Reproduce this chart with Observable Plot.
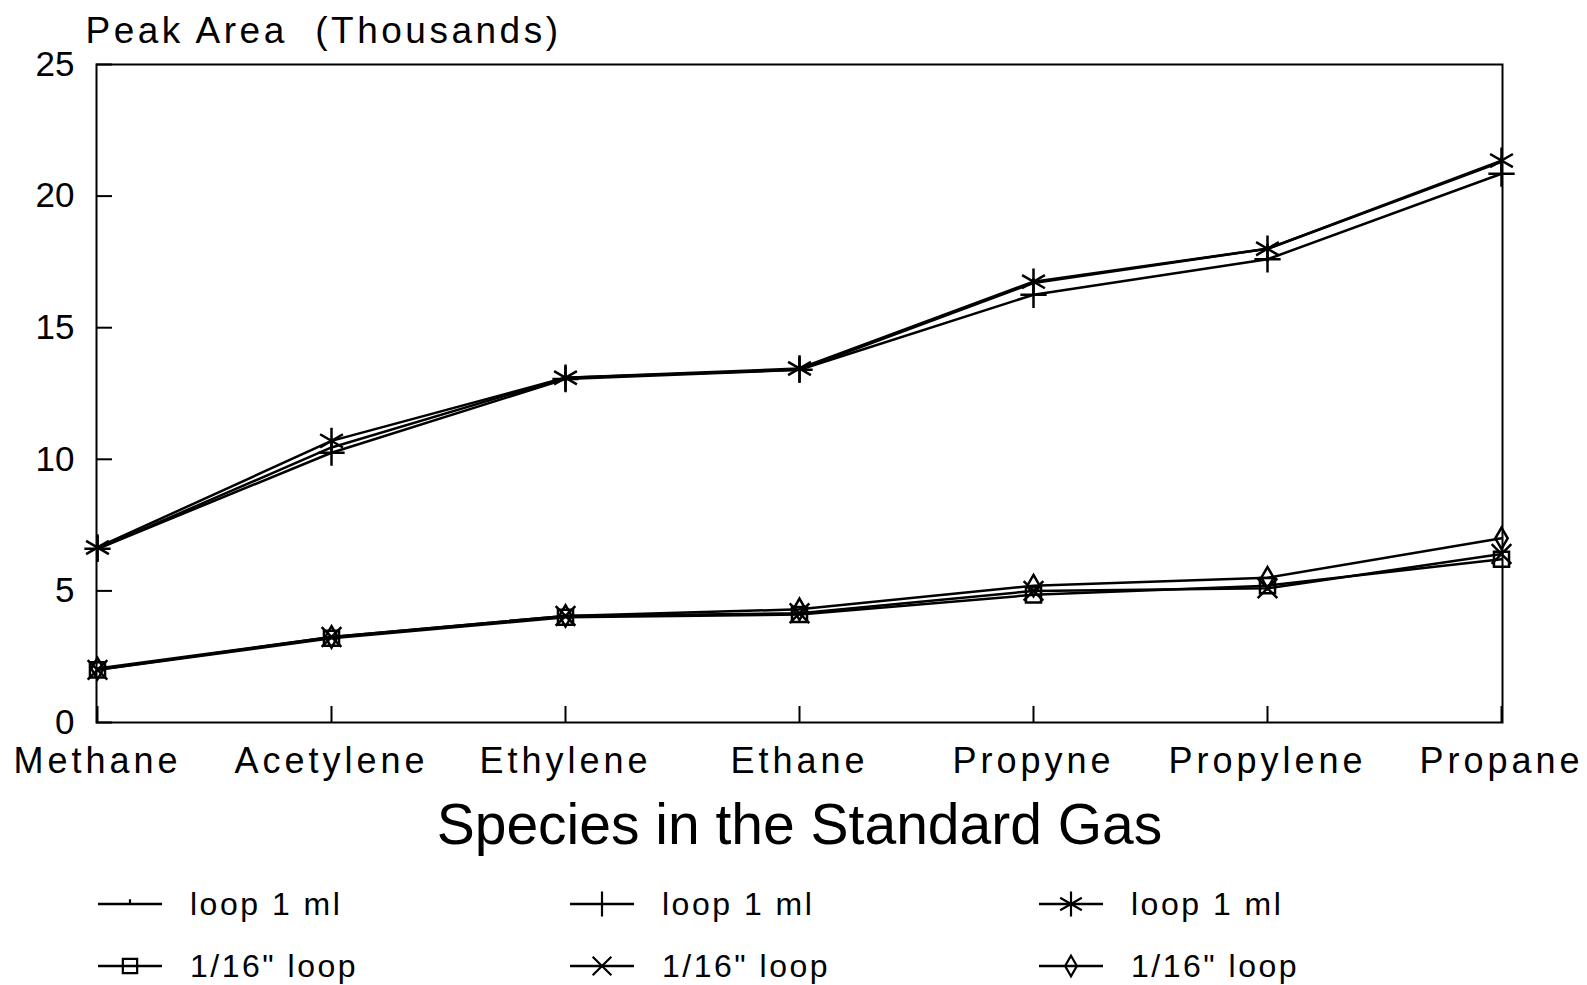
<!DOCTYPE html>
<html><head><meta charset="utf-8">
<script src="https://cdn.jsdelivr.net/npm/d3@7"></script>
<script src="https://cdn.jsdelivr.net/npm/@observablehq/plot@0.6"></script>
<style>
body{margin:0;background:#fff;font-family:"Liberation Sans",Arial,sans-serif;color:#000;}
#chart svg{display:block}
g[aria-label="x-axis tick label"]{font-size:36px;letter-spacing:4px}
g[aria-label="y-axis tick label"]{font-size:35px}
#legend{position:relative;height:135px;width:1587px}
.item{position:absolute;display:flex;align-items:center;height:40px;font-size:32px;letter-spacing:2.5px;white-space:pre}
.item svg{display:block}
</style></head><body><div id="chart"></div><div id="legend"></div>
<script>
const species = ["Methane","Acetylene","Ethylene","Ethane","Propyne","Propylene","Propane"];
const yTicks = [0,5,10,15,20,25];
const seriesNames = ["loop 1 ml","1/16\" loop","loop 1 ml","1/16\" loop","loop 1 ml","1/16\" loop"];
const loop1mlTick     = [6.6, 10.45, 13.1, 13.4, 16.7, 18.0, 21.3];
const loop116Square   = [2.0, 3.2, 4.0, 4.1, 4.85, 5.2, 6.2];
const loop1mlPlus     = [6.6, 10.25, 13.05, 13.4, 16.25, 17.6, 20.85];
const loop116Times    = [2.0, 3.25, 4.05, 4.15, 5.0, 5.1, 6.4];
const loop1mlAsterisk = [6.65, 10.7, 13.1, 13.45, 16.75, 18.0, 21.35];
const loop116Diamond  = [2.05, 3.25, 4.05, 4.3, 5.2, 5.5, 7.0];

const tickSymbol = {draw(ctx, size){ const r = Math.sqrt(size/Math.PI); ctx.moveTo(0,0); ctx.lineTo(0,-r); }};
const seriesValues = [loop1mlTick, loop116Square, loop1mlPlus, loop116Times, loop1mlAsterisk, loop116Diamond];
const symbols = [tickSymbol, "square", "plus", "times", "asterisk", "diamond"];
const d3symbols = [tickSymbol, d3.symbolSquare, d3.symbolPlus, d3.symbolTimes, d3.symbolAsterisk, d3.symbolDiamond];
const radii = [5, 8.5, 8.5, 9, 12.5, 6.5];

const rows = [];
seriesValues.forEach((vals, i) => vals.forEach((v, j) => rows.push({series: i, species: species[j], value: v})));

const yTitle = "Peak Area  (Thousands)";
const xTitle = "Species in the Standard Gas";

const marks = [
  Plot.frame({stroke: "black", strokeWidth: 2}),
  Plot.axisY({ticks: yTicks, tickSize: -16, tickPadding: 38, strokeWidth: 2, label: null}),
  Plot.axisX({tickSize: -16, tickPadding: 41, strokeWidth: 2, label: null}),
  Plot.line(rows, {x: "species", y: "value", z: "series", stroke: "black", strokeWidth: 2.5}),
  ...seriesValues.map((vals, i) => Plot.dot(rows.filter(d => d.series === i), {
    x: "species", y: "value", symbol: symbols[i], r: radii[i], stroke: "black", fill: "none", strokeWidth: 2.5
  })),
  Plot.text([yTitle], {text: d => d, frameAnchor: "top-left", dx: -11, dy: -22, textAnchor: "start", lineAnchor: "bottom", fontSize: 37, fill: "black"}),
  Plot.text([xTitle], {text: d => d, frameAnchor: "bottom", dy: 121, lineAnchor: "bottom", fontSize: 57, fill: "black"})
];

const plot = Plot.plot({
  width: 1587, height: 850,
  marginLeft: 96, marginRight: 85, marginTop: 64, marginBottom: 128,
  style: {fontFamily: "'Liberation Sans', Arial, sans-serif", color: "black", background: "white", overflow: "visible"},
  x: {type: "point", domain: species, padding: 0, label: null},
  y: {domain: [0, 25], label: null},
  marks
});
document.getElementById("chart").appendChild(plot);
d3.select(plot).selectAll('g[aria-label="text"] text')
  .filter(function(){ return this.textContent === yTitle; })
  .style("white-space", "pre").style("letter-spacing", "3.5px");

// legend
const legend = d3.select("#legend");
const cols = [98, 570, 1039];
const rowY = [54, 116];
seriesNames.forEach((name, i) => {
  const c = Math.floor(i / 2), r = i % 2;
  const item = legend.append("div").attr("class", "item")
    .style("left", cols[c] + "px").style("top", (rowY[r] - 20) + "px");
  const svg = item.append("svg").attr("width", 92).attr("height", 40);
  svg.append("line").attr("x1", 0).attr("x2", 64).attr("y1", 20).attr("y2", 20).attr("stroke", "black").attr("stroke-width", 2.5);
  const sz = Math.PI * Math.pow(radii[i] * 0.95, 2);
  svg.append("path").attr("transform", "translate(32,20)")
    .attr("d", d3.symbol(d3symbols[i], sz)()).attr("fill", "none").attr("stroke", "black").attr("stroke-width", 2.2);
  item.append("span").text(name);
});
</script>
</body></html>
